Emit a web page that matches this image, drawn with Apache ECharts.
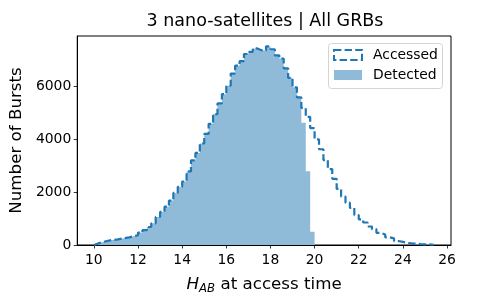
<!DOCTYPE html>
<html><head><meta charset="utf-8">
<script src="https://cdn.jsdelivr.net/npm/echarts@6/dist/echarts.min.js"></script>
<style>html,body{margin:0;padding:0;background:#fff}#c{width:500px;height:300px}</style>
</head><body><div id="c"></div>
<script>
const binStart = 10.0;
const binWidth = 0.2;
const accessed = [60,110,150,190,200,230,260,290,330,370,
 470,560,680,820,1060,1250,1450,1680,1970,2200,
 2400,2780,3200,3480,3840,4200,4580,4950,5350,5700,
 6020,6480,6780,6950,7220,7300,7430,7360,7350,7510,
 7400,7170,7050,6680,6320,5960,5580,5180,4840,4420,
 3990,3620,3210,2870,2500,2120,1830,1600,1400,1130,
 970,850,700,600,460,400,290,250,150,120,
 80,60,50,35,25,20,10];
const detected = [60,110,150,190,200,230,260,290,330,370,
 470,560,680,820,1060,1250,1450,1680,1970,2200,
 2400,2780,3200,3480,3840,4200,4580,4950,5350,5700,
 6020,6480,6780,6950,7220,7300,7430,7360,7350,7510,
 7400,7170,7050,6680,6320,5960,5580,4620,2790,500];
const xTicks = [10,12,14,16,18,20,22,24,26];
const yTicks = [0,2000,4000,6000];
const titleText = '3 nano-satellites | All GRBs';
const legendNames = ['Accessed','Detected'];
const yName = 'Number of Bursts';

const FONT = 'DejaVu Sans';
const BLUE = '#1f77b4';
const FILL = '#8fbbd9';

function stepPath(vals){
  const pts = [[binStart, 0]];
  vals.forEach((v, i) => {
    const a = +(binStart + i*binWidth).toFixed(4);
    const b = +(binStart + (i+1)*binWidth).toFixed(4);
    pts.push([a, v], [b, v]);
  });
  pts.push([+(binStart + vals.length*binWidth).toFixed(4), 0]);
  return pts;
}

const chart = echarts.init(document.getElementById('c'), null, {renderer:'canvas'});
const option = {
  animation: false,
  grid: {left:75, right:49, top:36, bottom:51, show:true, borderColor:'#000', borderWidth:1, backgroundColor:'transparent'},
  xAxis: {
    type:'value', min:9.247, max:26.18,
    axisLine:{show:true, onZero:false, lineStyle:{color:'#000', width:1}},
    axisTick:{show:true, length:3.5, lineStyle:{color:'#000', width:0.8}, customValues:xTicks},
    axisLabel:{customValues:xTicks, color:'#000', fontFamily:FONT, fontSize:13.9, margin:8, formatter:v=>String(v)},
    splitLine:{show:false},
    name:'{h|H}{s|AB} at access time',
    nameLocation:'middle', nameGap:30,
    nameTextStyle:{color:'#000', fontFamily:FONT, fontSize:16.7,
      rich:{h:{fontFamily:FONT, fontStyle:'italic', fontSize:16.7, color:'#000'},
            s:{fontFamily:FONT, fontStyle:'italic', fontSize:11.7, color:'#000', padding:[8,0,0,0]}}}
  },
  yAxis: {
    type:'value', min:0, max:7900,
    axisLine:{show:true, lineStyle:{color:'#000', width:1}},
    axisTick:{show:true, length:3.5, lineStyle:{color:'#000', width:0.8}, customValues:yTicks},
    axisLabel:{customValues:yTicks, color:'#000', fontFamily:FONT, fontSize:13.9, margin:6, formatter:v=>String(v)},
    splitLine:{show:false},
    name: yName, nameLocation:'middle', nameGap:52,
    nameTextStyle:{color:'#000', fontFamily:FONT, fontSize:16.7}
  },
  series: [
    {type:'line', name:legendNames[1], data:stepPath(detected), symbol:'none', showSymbol:false,
     lineStyle:{width:0, opacity:0}, areaStyle:{color:FILL, opacity:1}, z:1, silent:true},
    {type:'line', name:legendNames[0], data:stepPath(accessed), symbol:'none', showSymbol:false,
     lineStyle:{color:BLUE, width:2.2, type:[7.4,3.2]}, z:2, silent:true}
  ],
  graphic: [
    {type:'text', x:265, y:21, z:100, style:{text:titleText, fontFamily:FONT, fontSize:17.5, fill:'#000', align:'center', verticalAlign:'middle'}},
    {type:'group', z:100, children:[
      {type:'rect', shape:{x:328.5, y:43.5, width:114, height:45, r:3}, style:{fill:'rgba(255,255,255,0.8)', stroke:'#d4d4d4', lineWidth:1}},
      {type:'rect', shape:{x:334, y:50, width:28, height:10}, style:{fill:null, stroke:BLUE, lineWidth:2, lineDash:[7.4,3.2]}},
      {type:'text', x:373, y:55, style:{text:legendNames[0], fontFamily:FONT, fontSize:13.9, fill:'#000', verticalAlign:'middle'}},
      {type:'rect', shape:{x:334, y:70, width:28, height:10}, style:{fill:FILL}},
      {type:'text', x:373, y:75, style:{text:legendNames[1], fontFamily:FONT, fontSize:13.9, fill:'#000', verticalAlign:'middle'}}
    ]}
  ]
};
chart.setOption(option);
</script></body></html>
